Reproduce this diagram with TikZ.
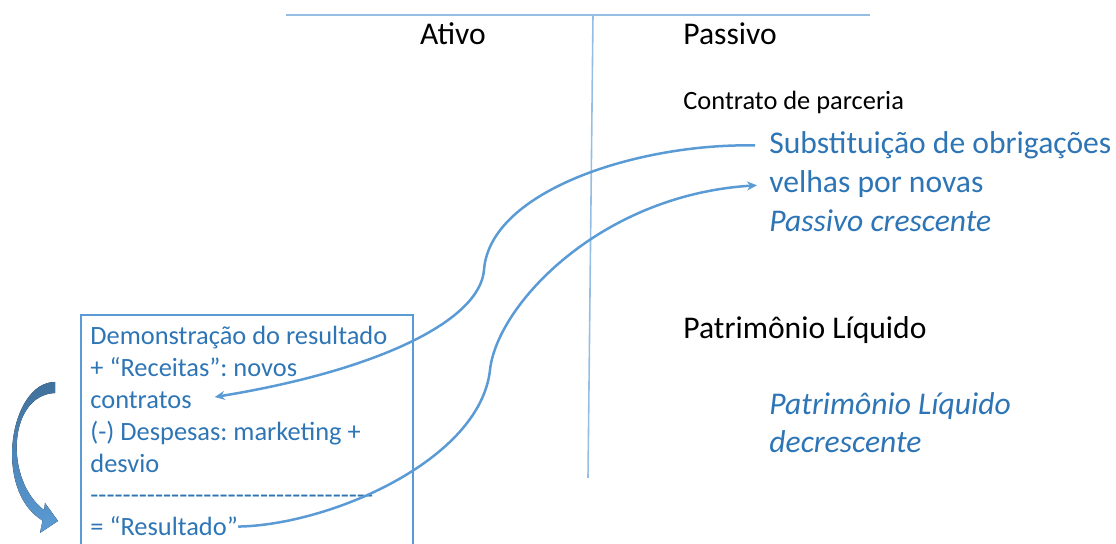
\documentclass[tikz,border=0pt]{standalone}
\usepackage{fontspec}
\setmainfont{Carlito}
\frenchspacing
\usetikzlibrary{arrows.meta}
\definecolor{txtblue}{RGB}{46,117,182}
\definecolor{lnblue}{RGB}{91,155,213}
\definecolor{tblue}{RGB}{150,190,228}
\definecolor{darkblue}{RGB}{65,113,156}
\begin{document}
\begin{tikzpicture}[x=0.5pt,y=-0.5pt,
  big/.style={font=\fontsize{15.8}{19}\selectfont,inner sep=0pt},
  small/.style={font=\fontsize{13.2}{16}\selectfont,inner sep=0pt},
  bluetext/.style={text=txtblue},
  link/.style={lnblue,line width=1.25pt,-{Stealth[length=5pt,width=4.5pt]}}]
  \useasboundingbox (0,0) rectangle (1116,544);
  \clip (0,0) rectangle (1116,544);

  % T account
  %edges
  \draw[tblue,line width=0.8pt] (286,15) -- (870,15);
  \draw[tblue,line width=0.8pt] (593,15) -- (588,478);
  %labels
  \node[big,anchor=base] (ativo) at (453,45) {Ativo};
  \node[big,anchor=base west] (passivo) at (683,45) {Passivo};

  % passivo
  \node[small,anchor=base west] (contrato) at (683,110) {Contrato de parceria};
  \node[big,bluetext,anchor=base west] (subst) at (769,154) {Substituição de obrigações};
  \node[big,bluetext,anchor=base west] (velhas) at (769,193) {velhas por novas};
  \node[big,bluetext,anchor=base west] (pcresc) at (769,232) {\itshape Passivo crescente};

  % patrimonio liquido
  \node[big,anchor=base west] (pl) at (683,339) {Patrimônio Líquido};
  \node[big,bluetext,anchor=base west] (pldec) at (769,415) {\itshape Patrimônio Líquido};
  \node[big,bluetext,anchor=base west] (pldecb) at (769,453) {\itshape decrescente};

  % resultado
  %edges
  \draw[lnblue,line width=0.8pt] (81,315) rectangle (413,560);
  %labels
  \node[small,bluetext,anchor=base west] (dre1) at (90,345) {Demonstração do resultado};
  \node[small,bluetext,anchor=base west] (dre2) at (90,377) {+ “Receitas”: novos};
  \node[small,bluetext,anchor=base west] (dre3) at (90,409) {contratos};
  \node[small,bluetext,anchor=base west] (dre4) at (90,441) {(-) Despesas: marketing +};
  \node[small,bluetext,anchor=base west] (dre5) at (90,473) {desvio};
  \node[small,bluetext,anchor=base west] (dre6) at (90,504) {\foreach \i in {1,...,35}{-\kern0pt}};
  \node[small,bluetext,anchor=base west] (dre7) at (90,536) {= “Resultado”};

  % links
  \draw[link,shorten <=7pt,shorten >=11.5pt] (subst.west) .. controls (640,143) and (490,190) .. (484,270)
    .. controls (480,320) and (380,370) .. (dre3.east);
  \draw[link,shorten >=6pt] (dre7.east) .. controls (330,525) and (480,460) .. (490,370)
    .. controls (497,305) and (600,195) .. (velhas.west);

  % left arrow
  \fill[top color=darkblue,bottom color=lnblue] (55,382) .. controls (10,382) and (-8,490) .. (42.6,520.6)
    -- (40,533) -- (58,521) -- (45,503) -- (44.2,510.2) .. controls (4,480) and (8,395) .. (55,393) -- cycle;
\end{tikzpicture}
\end{document}
